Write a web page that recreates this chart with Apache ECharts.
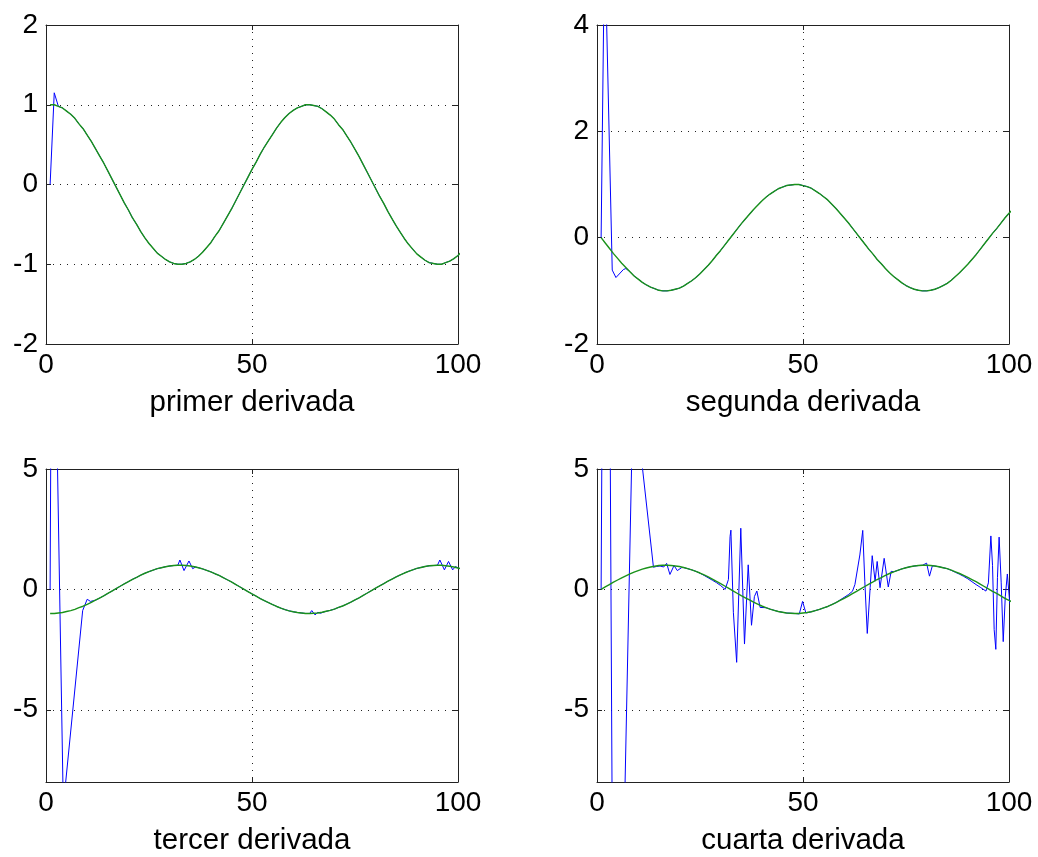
<!DOCTYPE html>
<html><head><meta charset="utf-8">
<script src="https://cdn.jsdelivr.net/npm/echarts@6/dist/echarts.min.js"></script>
<style>html,body{margin:0;padding:0;background:#fff}#c{width:1038px;height:857px}</style>
</head><body><div id="c"></div>
<script>
// x sample positions (index 1..101)
const X = [1,2,3,4,5,6,7,8,9,10,11,12,13,14,15,16,17,18,19,20,21,22,23,24,25,26,27,28,29,30,
31,32,33,34,35,36,37,38,39,40,41,42,43,44,45,46,47,48,49,50,51,52,53,54,55,56,57,58,59,60,
61,62,63,64,65,66,67,68,69,70,71,72,73,74,75,76,77,78,79,80,81,82,83,84,85,86,87,88,89,90,
91,92,93,94,95,96,97,98,99,100,101];

const titles = ['primer derivada','segunda derivada','tercer derivada','cuarta derivada'];
const xTicks = [0, 50, 100];
const yTicks1 = [-2,-1,0,1,2];
const yTicks2 = [-2,0,2,4];
const yTicks3 = [-5,0,5];
const yTicks4 = [-5,0,5];
const yRange1 = [-2, 2];
const yRange2 = [-2, 4];
const yRange3 = [-8, 5];
const yRange4 = [-8, 5];

// green (exact) curves
const green1 = [1.00,1.00,0.98,0.96,0.92,0.88,0.83,0.76,0.70,0.62,
0.54,0.45,0.36,0.27,0.17,0.07,-0.03,-0.13,-0.23,-0.32,
-0.42,-0.50,-0.59,-0.67,-0.74,-0.80,-0.86,-0.90,-0.94,-0.97,
-0.99,-1.00,-1.00,-0.99,-0.97,-0.94,-0.90,-0.85,-0.79,-0.73,
-0.65,-0.58,-0.49,-0.40,-0.31,-0.21,-0.11,-0.01,0.09,0.19,
0.28,0.38,0.47,0.55,0.63,0.71,0.78,0.84,0.89,0.93,
0.96,0.98,1.00,1.00,0.99,0.98,0.95,0.91,0.87,0.82,
0.75,0.69,0.61,0.53,0.44,0.35,0.25,0.15,0.05,-0.05,
-0.15,-0.24,-0.34,-0.43,-0.52,-0.60,-0.68,-0.75,-0.81,-0.87,
-0.91,-0.95,-0.98,-0.99,-1.00,-1.00,-0.98,-0.96,-0.93,-0.89,
-0.84];
const green2 = [0.00,-0.10,-0.20,-0.30,-0.39,-0.48,-0.56,-0.64,-0.72,-0.78,
-0.84,-0.89,-0.93,-0.96,-0.99,-1.00,-1.00,-0.99,-0.97,-0.95,
-0.91,-0.86,-0.81,-0.75,-0.68,-0.60,-0.52,-0.43,-0.33,-0.24,
-0.14,-0.04,0.06,0.16,0.26,0.35,0.44,0.53,0.61,0.69,
0.76,0.82,0.87,0.92,0.95,0.98,0.99,1.00,1.00,0.98,
0.96,0.93,0.88,0.83,0.77,0.71,0.63,0.55,0.46,0.37,
0.28,0.18,0.08,-0.02,-0.12,-0.22,-0.31,-0.41,-0.49,-0.58,
-0.66,-0.73,-0.79,-0.85,-0.90,-0.94,-0.97,-0.99,-1.00,-1.00,
-0.99,-0.97,-0.94,-0.90,-0.86,-0.80,-0.73,-0.66,-0.58,-0.50,
-0.41,-0.32,-0.22,-0.12,-0.02,0.08,0.17,0.27,0.37,0.46,
0.54];
const green3 = [-1.00,-1.00,-0.98,-0.96,-0.92,-0.88,-0.83,-0.76,-0.70,-0.62,
-0.54,-0.45,-0.36,-0.27,-0.17,-0.07,0.03,0.13,0.23,0.32,
0.42,0.50,0.59,0.67,0.74,0.80,0.86,0.90,0.94,0.97,
0.99,1.00,1.00,0.99,0.97,0.94,0.90,0.85,0.79,0.73,
0.65,0.58,0.49,0.40,0.31,0.21,0.11,0.01,-0.09,-0.19,
-0.28,-0.38,-0.47,-0.55,-0.63,-0.71,-0.78,-0.84,-0.89,-0.93,
-0.96,-0.98,-1.00,-1.00,-0.99,-0.98,-0.95,-0.91,-0.87,-0.82,
-0.75,-0.69,-0.61,-0.53,-0.44,-0.35,-0.25,-0.15,-0.05,0.05,
0.15,0.24,0.34,0.43,0.52,0.60,0.68,0.75,0.81,0.87,
0.91,0.95,0.98,0.99,1.00,1.00,0.98,0.96,0.93,0.89,
0.84];
const green4 = [0.00,0.10,0.20,0.30,0.39,0.48,0.56,0.64,0.72,0.78,
0.84,0.89,0.93,0.96,0.99,1.00,1.00,0.99,0.97,0.95,
0.91,0.86,0.81,0.75,0.68,0.60,0.52,0.43,0.33,0.24,
0.14,0.04,-0.06,-0.16,-0.26,-0.35,-0.44,-0.53,-0.61,-0.69,
-0.76,-0.82,-0.87,-0.92,-0.95,-0.98,-0.99,-1.00,-1.00,-0.98,
-0.96,-0.93,-0.88,-0.83,-0.77,-0.71,-0.63,-0.55,-0.46,-0.37,
-0.28,-0.18,-0.08,0.02,0.12,0.22,0.31,0.41,0.49,0.58,
0.66,0.73,0.79,0.85,0.90,0.94,0.97,0.99,1.00,1.00,
0.99,0.97,0.94,0.90,0.86,0.80,0.73,0.66,0.58,0.50,
0.41,0.32,0.22,0.12,0.02,-0.08,-0.17,-0.27,-0.37,-0.46,
-0.54];

// blue (numerical) curves as [x, y]
const blue1 = [[1,0],[2,1.15],[3,0.98],[4,0.96],[5,0.92],[6,0.88],[7,0.83],[8,0.76],[9,0.70],[10,0.62],
[11,0.54],[12,0.45],[13,0.36],[14,0.27],[15,0.17],[16,0.07],[17,-0.03],[18,-0.13],[19,-0.23],[20,-0.32],
[21,-0.42],[22,-0.50],[23,-0.59],[24,-0.67],[25,-0.74],[26,-0.80],[27,-0.86],[28,-0.90],[29,-0.94],[30,-0.97],
[31,-0.99],[32,-1.00],[33,-1.00],[34,-0.99],[35,-0.97],[36,-0.94],[37,-0.90],[38,-0.85],[39,-0.79],[40,-0.73],
[41,-0.65],[42,-0.58],[43,-0.49],[44,-0.40],[45,-0.31],[46,-0.21],[47,-0.11],[48,-0.01],[49,0.09],[50,0.19],
[51,0.28],[52,0.38],[53,0.47],[54,0.55],[55,0.63],[56,0.71],[57,0.78],[58,0.84],[59,0.89],[60,0.93],
[61,0.96],[62,0.98],[63,1.00],[64,1.00],[65,0.99],[66,0.98],[67,0.95],[68,0.91],[69,0.87],[70,0.82],
[71,0.75],[72,0.69],[73,0.61],[74,0.53],[75,0.44],[76,0.35],[77,0.25],[78,0.15],[79,0.05],[80,-0.05],
[81,-0.15],[82,-0.24],[83,-0.34],[84,-0.43],[85,-0.52],[86,-0.60],[87,-0.68],[88,-0.75],[89,-0.81],[90,-0.87],
[91,-0.91],[92,-0.95],[93,-0.98],[94,-0.99],[95,-1.00],[96,-1.00],[97,-0.98],[98,-0.96],[99,-0.93],[100,-0.89],
[101,-0.84]];
const blue2 = [[1,0],[1.85,5.7],[3.7,-0.61],[4.6,-0.75],[6.4,-0.6],[7,-0.58],[8,-0.64],[9,-0.72],[10,-0.78],
[11,-0.84],[12,-0.89],[13,-0.93],[14,-0.96],[15,-0.99],[16,-1.00],[17,-1.00],[18,-0.99],[19,-0.97],[20,-0.95],
[21,-0.91],[22,-0.86],[23,-0.81],[24,-0.75],[25,-0.68],[26,-0.60],[27,-0.52],[28,-0.43],[29,-0.33],[30,-0.24],
[31,-0.14],[32,-0.04],[33,0.06],[34,0.16],[35,0.26],[36,0.35],[37,0.44],[38,0.53],[39,0.61],[40,0.69],
[41,0.76],[42,0.82],[43,0.87],[44,0.92],[45,0.95],[46,0.98],[47,0.99],[48,1.00],[49,1.00],[50,0.98],
[51,0.96],[52,0.93],[53,0.88],[54,0.83],[55,0.77],[56,0.71],[57,0.63],[58,0.55],[59,0.46],[60,0.37],
[61,0.28],[62,0.18],[63,0.08],[64,-0.02],[65,-0.12],[66,-0.22],[67,-0.31],[68,-0.41],[69,-0.49],[70,-0.58],
[71,-0.66],[72,-0.73],[73,-0.79],[74,-0.85],[75,-0.90],[76,-0.94],[77,-0.97],[78,-0.99],[79,-1.00],[80,-1.00],
[81,-0.99],[82,-0.97],[83,-0.94],[84,-0.90],[85,-0.86],[86,-0.80],[87,-0.73],[88,-0.66],[89,-0.58],[90,-0.50],
[91,-0.41],[92,-0.32],[93,-0.22],[94,-0.12],[95,-0.02],[96,0.08],[97,0.17],[98,0.27],[99,0.37],[100,0.46],
[101,0.54]];
const blue3 = [[1,0],[1.5,18],[4.2,-9.0],[8.9,-0.88],[10,-0.41],[10.8,-0.5],[11.5,-0.47],[12,-0.45],
[13,-0.36],[14,-0.27],[15,-0.17],[16,-0.07],[17,0.03],[18,0.13],[19,0.23],[20,0.32],
[21,0.42],[22,0.50],[23,0.59],[24,0.67],[25,0.74],[26,0.80],[27,0.86],[28,0.90],[29,0.94],[30,0.97],
[31,0.99],[32,1.00],[32.5,1.22],[33.5,0.78],[34.7,1.18],[35.6,0.86],[36.3,0.93],[37,0.90],[38,0.85],[39,0.79],[40,0.73],
[41,0.65],[42,0.58],[43,0.49],[44,0.40],[45,0.31],[46,0.21],[47,0.11],[48,0.01],[49,-0.09],[50,-0.19],
[51,-0.28],[52,-0.38],[53,-0.47],[54,-0.55],[55,-0.63],[56,-0.71],[57,-0.78],[58,-0.84],[59,-0.89],[60,-0.93],
[61,-0.96],[62,-0.98],[63,-1.00],[64,-1.00],[64.5,-0.88],[65.3,-1.06],[66,-0.95],[66.6,-0.99],[67,-0.95],[68,-0.91],[69,-0.87],[70,-0.82],
[71,-0.75],[72,-0.69],[73,-0.61],[74,-0.53],[75,-0.44],[76,-0.35],[77,-0.25],[78,-0.15],[79,-0.05],[80,0.05],
[81,0.15],[82,0.24],[83,0.34],[84,0.43],[85,0.52],[86,0.60],[87,0.68],[88,0.75],[89,0.81],[90,0.87],
[91,0.91],[92,0.95],[93,0.98],[94,0.99],[95,1.00],[95.6,1.22],[96.7,0.81],[97.7,1.16],[98.7,0.81],[99.4,0.95],[100,0.89],
[101,0.84]];
const blue4 = [[1,0],[2.2,38],[4.3,-29],[8.8,8.5],[13.7,0.92],[14.4,0.95],[15.3,0.97],[16.2,0.93],[16.9,1.08],
[17.7,0.62],[18.7,0.99],[19.5,0.78],[20.5,0.9],[21,0.91],[22,0.86],[23,0.81],[24,0.75],[25,0.67],[26,0.58],
[27,0.48],[28,0.38],[29,0.28],[30,0.16],[31.1,0.0],[31.9,0.41],[32.3,2.2],[32.5,2.46],[33.1,-0.95],[33.9,-3.03],
[34.9,2.54],[35.8,-2.27],[36.7,1.02],[37.5,-1.49],[38.2,-0.3],[38.8,-0.07],[39.6,-0.75],[40,-0.69],
[41,-0.76],[42,-0.82],[43,-0.87],[44,-0.92],[45,-0.95],[46,-0.98],[47,-0.99],[48,-1.00],[49.1,-1.02],[49.9,-0.5],[50.7,-0.98],
[51,-0.96],[52,-0.93],[53,-0.88],[54,-0.83],[55,-0.77],[56,-0.71],[57,-0.63],[58,-0.55],[59,-0.44],[60,-0.33],
[61,-0.22],[62,-0.08],[62.6,0.2],[63.8,1.43],[64.5,2.45],[65,0.34],[65.6,-1.83],[66.3,0.07],[66.8,1.4],[67.5,0.34],
[68,1.16],[68.7,0.07],[69.7,1.29],[70.7,0.1],[71.4,0.75],[72,0.73],[73,0.79],[74,0.85],[75,0.90],[76,0.94],
[77,0.97],[78,0.99],[79,1.00],[80,1.09],[80.7,0.55],[81.4,0.98],[82,0.97],[83,0.94],[84,0.90],[85,0.86],
[86,0.79],[87,0.71],[88,0.63],[89,0.54],[90,0.44],[91,0.32],[92,0.2],[93,0.09],[94.4,-0.07],[95,0.27],
[95.6,2.22],[96.0,1.0],[96.4,-1.67],[96.8,-2.49],[97.2,0.5],[97.6,2.17],[98.1,0.3],[98.6,-2.17],[99.1,-0.3],
[99.6,0.64],[100.2,-0.6],[101,-0.54]];

const panels = [
  {title: titles[0], yRange: yRange1, yTicks: yTicks1, blue: blue1, green: green1},
  {title: titles[1], yRange: yRange2, yTicks: yTicks2, blue: blue2, green: green2},
  {title: titles[2], yRange: yRange3, yTicks: yTicks3, blue: blue3, green: green3},
  {title: titles[3], yRange: yRange4, yTicks: yTicks4, blue: blue4, green: green4}
];
const pos = [[46,25],[597,25],[46,469],[597,469]];
const FONT = 'Liberation Sans, Arial, sans-serif';
const dotted = {show:true, lineStyle:{color:'#222', width:1, type:[1,6]}};
const axLine = {show:true, onZero:false, lineStyle:{color:'#222', width:1}};
const tick = (vals) => ({show:true, inside:true, length:5, lineStyle:{color:'#222', width:1}, customValues: vals});

const option = {animation:false, backgroundColor:'#fff', grid:[], xAxis:[], yAxis:[], series:[]};
panels.forEach((p, i) => {
  option.grid.push({left:pos[i][0], top:pos[i][1], width:412, height:319, containLabel:false});
  const xb = {gridIndex:i, type:'value', min:0, max:100, interval:50, position:'bottom',
    axisLine:axLine, axisTick:tick(xTicks),
    axisLabel:{show:true, fontSize:28, color:'#000', fontFamily:FONT, margin:7, customValues:xTicks},
    splitLine:dotted,
    name:p.title, nameLocation:'middle', nameGap:44,
    nameTextStyle:{fontSize:29.5, color:'#000', fontFamily:FONT}};
  const xt = {gridIndex:i, type:'value', min:0, max:100, interval:50, position:'top',
    axisLine:axLine, axisTick:tick(xTicks), axisLabel:{show:false}, splitLine:{show:false}};
  const yl = {gridIndex:i, type:'value', min:p.yRange[0], max:p.yRange[1], position:'left',
    axisLine:axLine, axisTick:tick(p.yTicks),
    axisLabel:{show:true, fontSize:28, color:'#000', fontFamily:FONT, margin:8, customValues:p.yTicks},
    splitLine:dotted};
  const yr = {gridIndex:i, type:'value', min:p.yRange[0], max:p.yRange[1], position:'right',
    axisLine:axLine, axisTick:tick(p.yTicks), axisLabel:{show:false}, splitLine:{show:false}};
  option.xAxis.push(xb, xt);
  option.yAxis.push(yl, yr);
  option.series.push({type:'line', xAxisIndex:2*i, yAxisIndex:2*i, data:p.blue, showSymbol:false, symbol:'none',
    lineStyle:{color:'#0000ff', width:1}, itemStyle:{color:'#0000ff'}, z:2, clip:true});
  option.series.push({type:'line', xAxisIndex:2*i, yAxisIndex:2*i, data:X.map((x,k)=>[x,p.green[k]]), showSymbol:false, symbol:'none',
    lineStyle:{color:'#1a921a', width:1.4}, itemStyle:{color:'#1a921a'}, z:3, clip:true});
});
const chart = echarts.init(document.getElementById('c'), null, {renderer:'canvas'});
chart.setOption(option);
</script>
</body></html>
